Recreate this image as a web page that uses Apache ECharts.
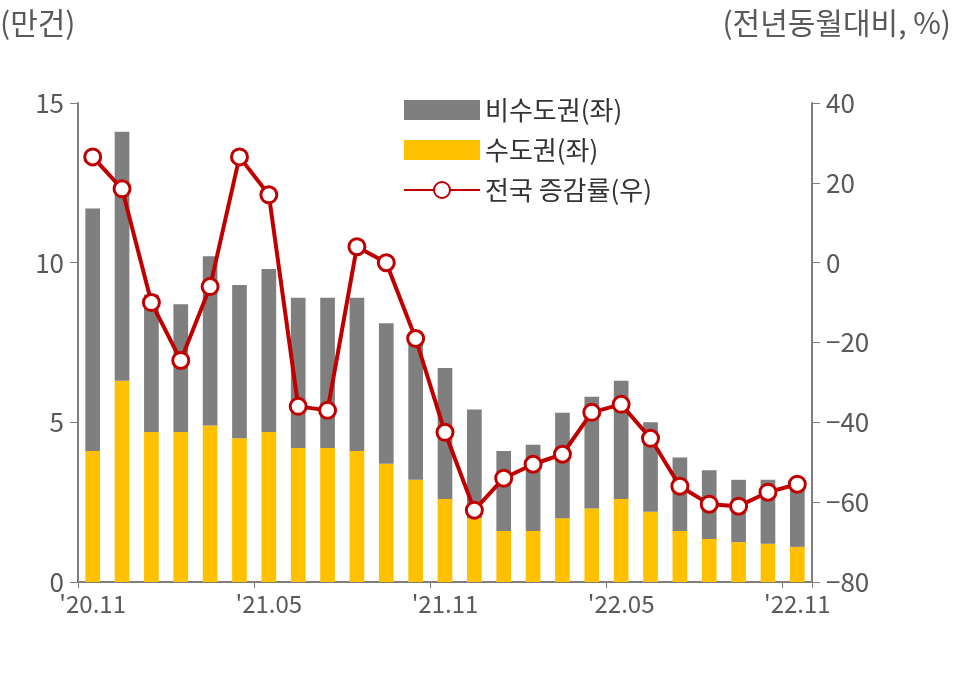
<!DOCTYPE html>
<html>
<head>
<meta charset="utf-8">
<script src="https://cdn.jsdelivr.net/npm/echarts@6/dist/echarts.min.js"></script>
<style>html,body{margin:0;padding:0;background:#fff}#chart{width:973px;height:673px}</style>
</head>
<body>
<div id="chart"></div>
<script>
var months = ["'20.11","'20.12","'21.01","'21.02","'21.03","'21.04","'21.05","'21.06","'21.07","'21.08","'21.09","'21.10","'21.11","'21.12","'22.01","'22.02","'22.03","'22.04","'22.05","'22.06","'22.07","'22.08","'22.09","'22.10","'22.11"];
var capital = [4.1,6.3,4.7,4.7,4.9,4.5,4.7,4.2,4.2,4.1,3.7,3.2,2.6,2.0,1.6,1.6,2.0,2.3,2.6,2.2,1.6,1.35,1.25,1.2,1.1];
var totals = [11.7,14.1,9.0,8.7,10.2,9.3,9.8,8.9,8.9,8.9,8.1,7.5,6.7,5.4,4.1,4.3,5.3,5.8,6.3,5.0,3.9,3.5,3.2,3.2,2.9];
var nonCapital = totals.map(function (t, i) { return +(t - capital[i]).toFixed(2); });
var yoy = [26.5,18.5,-10,-24.5,-6,26.5,17,-36,-37,4,0,-19,-42.5,-62,-54,-50.5,-48,-37.5,-35.5,-44,-56,-60.5,-61,-57.5,-55.5];

var font = 'Noto Sans CJK KR';
var chart = echarts.init(document.getElementById('chart'));
chart.setOption({
  animation: false,
  textStyle: { fontFamily: font },
  grid: { left: 78, right: 161, top: 103, bottom: 91 },
  graphic: [
    { type: 'text', left: 0, top: 8, style: { text: '(만건)', font: '30px "Noto Sans CJK KR"', fill: '#595959' } },
    { type: 'text', right: 22, top: 8, style: { text: '(전년동월대비, %)', font: '30px "Noto Sans CJK KR"', fill: '#595959' } }
  ],
  legend: {
    orient: 'vertical', left: 398, top: 92, itemGap: 14,
    itemWidth: 76, itemHeight: 20,
    textStyle: { fontSize: 26, color: '#333', fontFamily: font },
    data: [
      { name: '비수도권(좌)', icon: 'rect' },
      { name: '수도권(좌)', icon: 'rect' },
      { name: '전국 증감률(우)' }
    ]
  },
  xAxis: {
    type: 'category', data: months,
    axisLine: { lineStyle: { color: '#7f7f7f', width: 2 } },
    axisTick: { show: true, interval: 5, length: 6, lineStyle: { color: '#7f7f7f' } },
    axisLabel: { interval: 5, fontSize: 24, color: '#595959', margin: 10, fontFamily: font }
  },
  yAxis: [
    {
      type: 'value', min: 0, max: 15, interval: 5,
      axisLine: { show: true, lineStyle: { color: '#7f7f7f', width: 2 } },
      axisTick: { show: true, inside: false, length: 8, lineStyle: { color: '#7f7f7f' } },
      splitLine: { show: false },
      axisLabel: { fontSize: 26, color: '#595959', margin: 14, fontFamily: font }
    },
    {
      type: 'value', min: -80, max: 40, interval: 20,
      axisLine: { show: true, lineStyle: { color: '#7f7f7f', width: 2 } },
      axisTick: { show: true, length: 8, lineStyle: { color: '#7f7f7f' } },
      splitLine: { show: false },
      axisLabel: { fontSize: 26, color: '#595959', margin: 14, fontFamily: font,
        formatter: function (v) { return v < 0 ? '\u2212' + (-v) : v; } }
    }
  ],
  series: [
    { name: '수도권(좌)', type: 'bar', stack: 'a', data: capital, barWidth: '50%', itemStyle: { color: '#ffc000' } },
    { name: '비수도권(좌)', type: 'bar', stack: 'a', data: nonCapital, barWidth: '50%', itemStyle: { color: '#7f7f7f' } },
    { name: '전국 증감률(우)', type: 'line', yAxisIndex: 1, data: yoy,
      symbol: 'circle', symbolSize: 16,
      lineStyle: { color: '#c00000', width: 4 },
      itemStyle: { color: '#fff', borderColor: '#c00000', borderWidth: 3 } }
  ]
});
</script>
</body>
</html>
